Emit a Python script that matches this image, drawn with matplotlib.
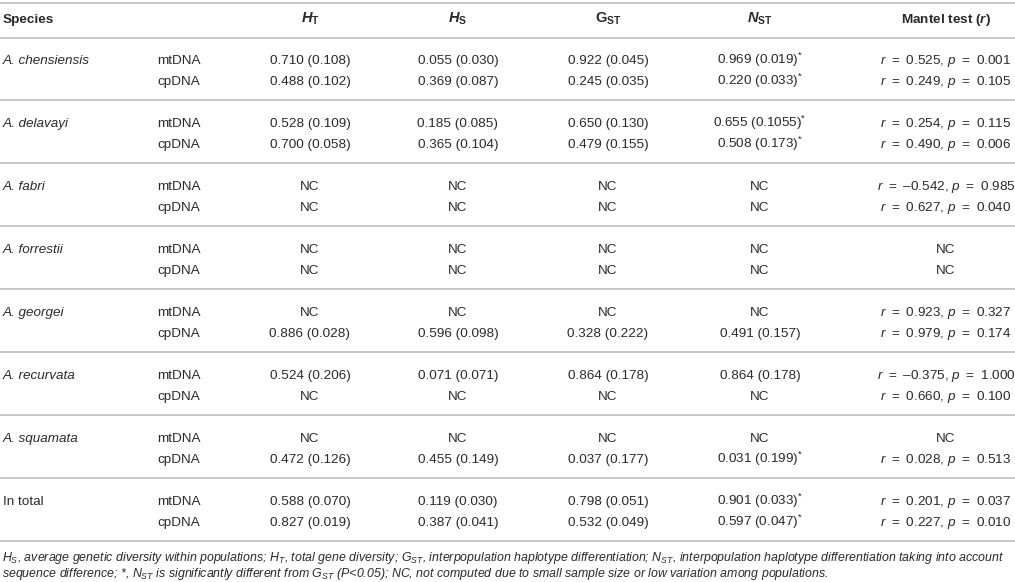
import numpy as np
import matplotlib
matplotlib.use('Agg')
import matplotlib.pyplot as plt

plt.rcParams['font.family'] = ['Liberation Sans', 'DejaVu Sans']
plt.rcParams['mathtext.fontset'] = 'custom'
plt.rcParams['mathtext.rm'] = 'Liberation Sans'
plt.rcParams['mathtext.it'] = 'Liberation Sans:italic'
plt.rcParams['mathtext.bf'] = 'Liberation Sans:bold'
plt.rcParams['mathtext.bfit'] = 'Liberation Sans:italic:bold'

# table data
species = ['A. chensiensis', 'A. delavayi', 'A. fabri', 'A. forrestii',
           'A. georgei', 'A. recurvata', 'A. squamata', 'In total']
markers = ['mtDNA', 'cpDNA']

# one entry per row (species x marker), None = NC
HT = ['0.710 (0.108)', '0.488 (0.102)', '0.528 (0.109)', '0.700 (0.058)',
      None, None, None, None,
      None, '0.886 (0.028)', '0.524 (0.206)', None,
      None, '0.472 (0.126)', '0.588 (0.070)', '0.827 (0.019)']
HS = ['0.055 (0.030)', '0.369 (0.087)', '0.185 (0.085)', '0.365 (0.104)',
      None, None, None, None,
      None, '0.596 (0.098)', '0.071 (0.071)', None,
      None, '0.455 (0.149)', '0.119 (0.030)', '0.387 (0.041)']
GST = ['0.922 (0.045)', '0.245 (0.035)', '0.650 (0.130)', '0.479 (0.155)',
       None, None, None, None,
       None, '0.328 (0.222)', '0.864 (0.178)', None,
       None, '0.037 (0.177)', '0.798 (0.051)', '0.532 (0.049)']
NST = ['0.969 (0.019)', '0.220 (0.033)', '0.655 (0.1055)', '0.508 (0.173)',
       None, None, None, None,
       None, '0.491 (0.157)', '0.864 (0.178)', None,
       None, '0.031 (0.199)', '0.901 (0.033)', '0.597 (0.047)']
NST_sig = [True, True, True, True,
           False, False, False, False,
           False, False, False, False,
           False, True, True, True]
mantel_r = ['0.525', '0.249', '0.254', '0.490',
            '\u20130.542', '0.627', None, None,
            '0.923', '0.979', '\u20130.375', '0.660',
            None, '0.028', '0.201', '0.227']
mantel_p = ['0.001', '0.105', '0.115', '0.006',
            '0.985', '0.040', None, None,
            '0.327', '0.174', '1.000', '0.100',
            None, '0.513', '0.037', '0.010']

headers = ['Species', '', r'$\mathbfit{H}_\mathbf{T}$', r'$\mathbfit{H}_\mathbf{S}$',
           r'$\mathbf{G}_\mathbf{ST}$', r'$\mathbfit{N}_\mathbf{ST}$',
           r'Mantel test ($\mathbfit{r}$)']

footnote = [
    r'$H_S$, average genetic diversity within populations; $H_T$, total gene diversity; '
    r'$G_{ST}$, interpopulation haplotype differentiation; $N_{ST}$, interpopulation haplotype '
    r'differentiation taking into account',
    r'sequence difference; *, $N_{ST}$ is significantly different from $G_{ST}$ ($P$<0.05); '
    r'NC, not computed due to small sample size or low variation among populations.',
]

W, H = 1015, 582
fig = plt.figure(figsize=(W / 100, H / 100), dpi=100)
ax = fig.add_axes([0, 0, 1, 1])
ax.set_xlim(0, W)
ax.set_ylim(H, 0)
ax.axis('off')

txt = '#2a2a2a'
rule = '#c8c8c8'
fs = 9.7

x_species, x_marker = 3, 157
x_cols = [310, 458, 608, 760, 946]

def base(yc):
    return yc + 5

# rules
for y in [3, 38] + [59 + 63 * i - 22 for i in range(1, len(species))] + [59 + 63 * 7 + 41]:
    ax.plot([0, W], [y, y], color=rule, lw=1.4, solid_capstyle='butt')

# header
hy = base(18)
ax.text(x_species, hy, headers[0], fontsize=fs, fontweight='bold', color=txt, va='baseline')
for x, h in zip(x_cols[:4], headers[2:6]):
    ax.text(x, hy, h, fontsize=fs + 0.8, color=txt, ha='center', va='baseline')
ax.text(x_cols[4], hy, headers[6], fontsize=fs, fontweight='bold', color=txt,
        ha='center', va='baseline')

sp2 = '\u2002'
# body
for i, sp in enumerate(species):
    y_mt = 59 + 63 * i
    ax.text(x_species, base(y_mt), sp, fontsize=fs, color=txt, va='baseline',
            style='normal' if sp == 'In total' else 'italic')
    for j, mk in enumerate(markers):
        k = 2 * i + j
        yb = base(y_mt + 21 * j)
        ax.text(x_marker, yb, mk, fontsize=fs, color=txt, va='baseline')
        for x, col in zip(x_cols[:3], [HT, HS, GST]):
            ax.text(x, yb, col[k] if col[k] else 'NC', fontsize=fs, color=txt,
                    ha='center', va='baseline')
        if NST[k]:
            s = NST[k] + (r'$^{*}$' if NST_sig[k] else '')
        else:
            s = 'NC'
        ax.text(x_cols[3], yb, s, fontsize=fs, color=txt, ha='center', va='baseline')
        if mantel_r[k]:
            m = (r'$r$' + sp2 + '=' + sp2 + mantel_r[k] + ', ' +
                 r'$p$' + sp2 + '=' + sp2 + mantel_p[k])
        else:
            m = 'NC'
        ax.text(x_cols[4], yb, m, fontsize=fs, color=txt, ha='center', va='baseline')

# footnote
for line, yb in zip(footnote, [561, 577]):
    ax.text(2, yb, line, fontsize=8.95, style='italic', color=txt, va='baseline')

fig.savefig('out.png', dpi=100)
